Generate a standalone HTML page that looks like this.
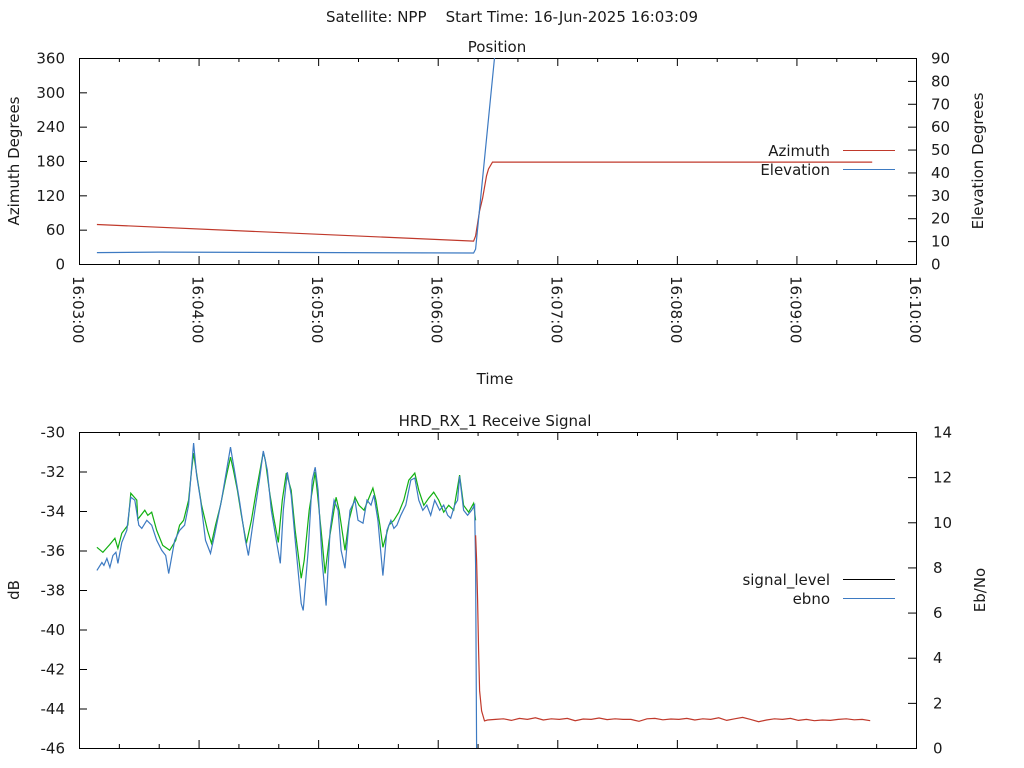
<!DOCTYPE html>
<html><head><meta charset="utf-8"><style>
html,body{margin:0;padding:0;background:#fff}
svg{display:block;font-family:"DejaVu Sans","Liberation Sans",sans-serif}
text{fill:#1a1a1a;font-size:15px;white-space:pre}
</style></head><body>
<svg id="c" width="1024" height="768" viewBox="0 0 1024 768">
<defs>
<clipPath id="clipTop"><rect x="79" y="58" width="837" height="206"/></clipPath>
<clipPath id="clipBot"><rect x="79" y="432" width="837" height="316"/></clipPath>
</defs>
<text x="512" y="22" text-anchor="middle" xml:space="preserve">Satellite: NPP    Start Time: 16-Jun-2025 16:03:09</text>
<text x="497" y="52" text-anchor="middle">Position</text>
<text x="495" y="384" text-anchor="middle">Time</text>
<text x="495" y="426" text-anchor="middle">HRD_RX_1 Receive Signal</text>
<text transform="translate(19,161) rotate(-90)" text-anchor="middle">Azimuth Degrees</text>
<text transform="translate(983,161) rotate(-90)" text-anchor="middle">Elevation Degrees</text>
<text transform="translate(19,590) rotate(-90)" text-anchor="middle">dB</text>
<text transform="translate(985,590) rotate(-90)" text-anchor="middle">Eb/No</text>
<g id="g"></g>
</svg>
<script>
// time in seconds after 16:03:00
const azTime=[9,198,199,201,202.5,204.5,205.5,207.5,398];
const azVal=[69,40,49,93,115,154,166,178,178];
const elTime=[9,40,198,199,208.5,209];
const elVal=[5,5.2,4.8,6.5,90,92];
const sigTime=[9,12,15.5,18,19.5,21.5,24.5,26,29,29.5,33,34.5,36.5,39,42,45.5,48.5,50.5,52.5,55,56.5,57.5,59.5,61.5,64.5,66.5,68.5,71,73.5,76,77.5,79.5,81.5,84,86.5,89,92.5,93.5,95.5,97.5,100,102,104,106.5,108.5,111.5,113,115.5,118.5,120,122,123.5,125.5,129,130.5,133.5,135.5,138.5,140.5,143,147.5,149,151,152.5,155.5,158,160.5,163,165.5,168.5,170.5,173,175.5,178,180.5,183,185.5,188,191,193,195.5,198,199];
const sigVal=[-35.84,-36.09,-35.69,-35.38,-35.89,-35.13,-34.72,-33.10,-33.45,-34.42,-33.96,-34.22,-34.06,-34.98,-35.74,-35.99,-35.49,-34.72,-34.47,-33.45,-31.93,-31.07,-32.44,-33.71,-34.98,-35.64,-34.72,-33.71,-32.44,-31.27,-31.93,-32.95,-34.22,-35.64,-34.47,-32.95,-31.02,-31.42,-32.95,-34.22,-35.59,-33.45,-32.08,-32.95,-34.98,-37.41,-36.50,-33.96,-32.03,-33.45,-35.49,-37.16,-35.49,-33.30,-33.96,-35.99,-34.47,-33.30,-33.71,-33.96,-32.84,-33.45,-34.72,-35.84,-34.72,-34.47,-34.06,-33.45,-32.44,-32.08,-32.95,-33.71,-33.35,-33.05,-33.45,-34.06,-33.71,-33.96,-32.18,-33.71,-34.06,-33.61,-34.47];
const ebTime=[9,11.5,12.5,14,15.5,17,18.5,19.5,21.5,24,26,28,30,31.5,34,36.5,39,41.5,43.5,45,48,50.5,53,55,57.5,59,61,63.5,66,68,71.5,76,78,80.5,83.5,85,87.5,90.5,92.5,94.5,96.5,99,101,102.5,104.5,106.5,108.5,111.5,112.5,115,117,118.5,120,122,124,126,128,130,131.5,133.5,136,138.5,140,142.5,144.5,146.5,148,150,152.5,154.5,156.5,158,159.5,161.5,164,166.5,168.5,170.5,172.5,174.5,176.5,178.5,181,183,185,186.5,188.5,190,191,193,195,197,198.5,199,199.5];
const ebVal=[7.87,8.22,8.09,8.40,8.00,8.53,8.67,8.18,9.11,9.64,11.11,10.98,9.87,9.73,10.09,9.87,9.20,8.76,8.53,7.73,9.20,9.64,9.87,10.76,13.51,12.09,10.98,9.20,8.62,9.42,10.98,13.33,12.31,10.98,9.20,8.53,10.09,11.87,13.16,12.31,10.53,9.20,8.18,10.53,12.22,11.20,9.20,6.40,6.09,8.76,11.87,12.44,11.42,8.31,6.31,9.64,10.98,10.53,8.76,7.96,10.53,10.98,10.09,9.96,10.98,10.76,11.20,10.09,7.64,9.64,10.09,9.73,9.87,10.31,10.76,11.87,11.96,10.98,10.53,10.76,10.31,10.98,10.53,10.76,10.31,10.18,10.76,10.98,12.04,10.53,10.31,10.53,10.76,8.09,0];
const lossTime=[199,199.5,200,200.5,201,202,203.5];
const lossVal=[-35.23,-36.50,-38.53,-41.07,-43.10,-44.12,-44.63];
const noiseVal=[-44.58,-44.55,-44.52,-44.60,-44.50,-44.55,-44.47,-44.58,-44.52,-44.55,-44.50,-44.62,-44.53,-44.55,-44.48,-44.56,-44.52,-44.55,-44.55,-44.65,-44.52,-44.50,-44.57,-44.53,-44.55,-44.50,-44.58,-44.52,-44.55,-44.47,-44.60,-44.52,-44.45,-44.55,-44.67,-44.58,-44.52,-44.55,-44.50,-44.60,-44.55,-44.62,-44.58,-44.60,-44.55,-44.52,-44.57,-44.55,-44.62];
const xTickLabels=["16:03:00","16:04:00","16:05:00","16:06:00","16:07:00","16:08:00","16:09:00","16:10:00"];
const azTicks=[0,60,120,180,240,300,360];
const elTicks=[0,10,20,30,40,50,60,70,80,90];
const dbTicks=[-46,-44,-42,-40,-38,-36,-34,-32,-30];
const ebTicks=[0,2,4,6,8,10,12,14];

const NS="http://www.w3.org/2000/svg";
const G=document.getElementById('g');
const X0=79,X1=916;
const xs=t=>X0+(X1-X0)*t/420;
const TT=58,TB=264,BT=432,BB=748;
const yAz=v=>TB-(TB-TT)*v/360;
const yEl=v=>TB-(TB-TT)*v/90;
const yDb=v=>BB-(BB-BT)*(v+46)/16;
const yEb=v=>BB-(BB-BT)*v/14;
function mk(tag,attrs,parent){const e=document.createElementNS(NS,tag);for(const k in attrs)e.setAttribute(k,attrs[k]);(parent||G).appendChild(e);return e;}
function line(x1,y1,x2,y2,name){const e=mk('line',{x1,y1,x2,y2,stroke:'#000','stroke-width':1});

return e;}
function txt(x,y,s,anchor,name){const e=mk('text',{x,y,'text-anchor':anchor});e.textContent=s;

return e;}
function poly(ts,vs,yf,color,clip,name){const pts=ts.map((t,i)=>xs(t).toFixed(1)+','+yf(vs[i]).toFixed(1)).join(' ');
const e=mk('polyline',{points:pts,fill:'none',stroke:color,'stroke-width':1.2,'clip-path':clip});

return e;}

function frame(top,bot,name){const r=mk('rect',{x:X0+0.5,y:top+0.5,width:X1-X0,height:bot-top,fill:'none',stroke:'#000','stroke-width':1});


for(let s=0;s<=420;s+=20){const x=xs(s)+0.5;const L=(s%60===0)?8:4;
line(x,bot,x,bot-L,'x-tick');line(x,top,x,top+L,'x-tick');}}
// top plot
frame(TT,TB,'position-plot-frame');
azTicks.forEach(v=>{const y=yAz(v)+0.5;line(X0,y,X0+8,y,'azimuth-tick');txt(X0-14,y+5,String(v),'end','azimuth-tick-label');});
elTicks.forEach(v=>{const y=yEl(v)+0.5;line(X1,y,X1-8,y,'elevation-tick');txt(X1+15,y+5,String(v),'start','elevation-tick-label');});
xTickLabels.forEach((s,i)=>{const x=xs(i*60);const e=txt(0,0,s,'start','time-tick-label');e.setAttribute('transform','translate('+(x-6)+','+276+') rotate(90)');});
poly(azTime,azVal,yAz,'#c0392b','url(#clipTop)','azimuth-line');
poly(elTime,elVal,yEl,'#3d7ac2','url(#clipTop)','elevation-line');
txt(830,156,'Azimuth','end','legend-azimuth-label');line(843,150.5,895,150.5,'legend-azimuth-swatch').setAttribute('stroke','#c0392b');
txt(830,175,'Elevation','end','legend-elevation-label');line(843,169.5,895,169.5,'legend-elevation-swatch').setAttribute('stroke','#3d7ac2');
// bottom plot
frame(BT,BB,'signal-plot-frame');
dbTicks.forEach(v=>{const y=yDb(v)+0.5;line(X0,y,X0+8,y,'db-tick');txt(X0-14,y+5,String(v),'end','db-tick-label');});
ebTicks.forEach(v=>{const y=yEb(v)+0.5;line(X1,y,X1-8,y,'ebno-tick');txt(X1+17,y+5,String(v),'start','ebno-tick-label');});
poly(sigTime,sigVal,yDb,'#12b012','url(#clipBot)','signal-level-line');
poly(ebTime,ebVal,yEb,'#3d7ac2','url(#clipBot)','ebno-line');
const noiseTime=noiseVal.map((v,i)=>205+i*4);
poly(lossTime.concat(noiseTime),lossVal.concat(noiseVal),yDb,'#c0392b','url(#clipBot)','signal-loss-line');
txt(830,585,'signal_level','end','legend-signal-level-label');line(843,579.5,895,579.5,'legend-signal-level-swatch');
txt(830,604,'ebno','end','legend-ebno-label');line(843,598.5,895,598.5,'legend-ebno-swatch').setAttribute('stroke','#3d7ac2');
</script>
</body></html>
